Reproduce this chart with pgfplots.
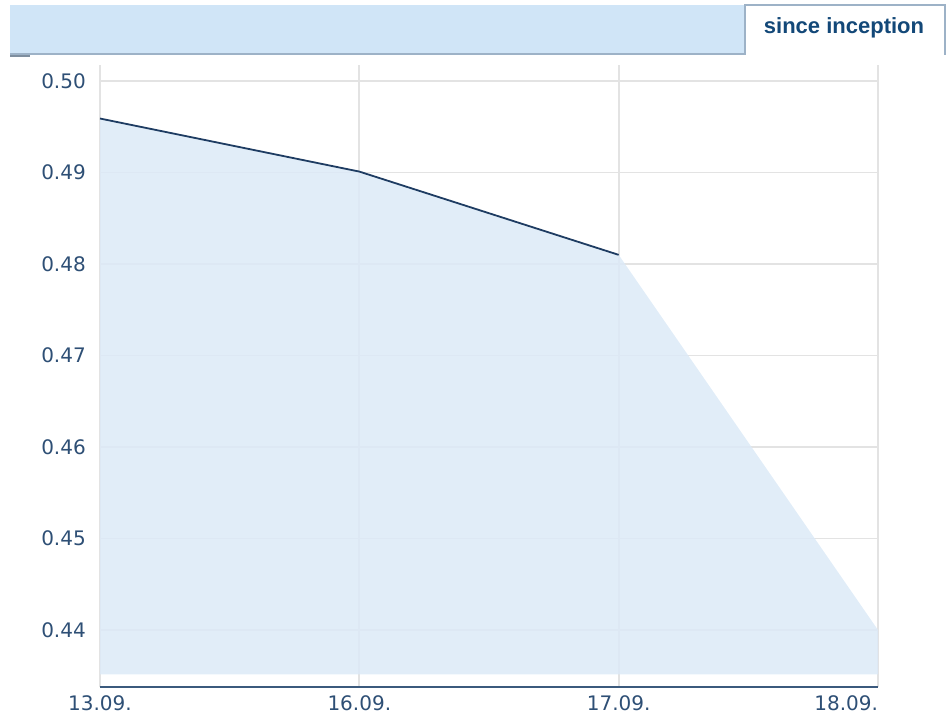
\documentclass[border=0pt]{standalone}
\usepackage{fontspec}
\setmainfont{DejaVu Sans}
\newfontfamily\tabfont{Liberation Sans}
\usepackage{pgfplots}
\pgfplotsset{compat=1.18}
\definecolor{fillblue}{HTML}{DCEAF7}
\definecolor{lineblue}{HTML}{1E3C62}
\definecolor{ticktext}{HTML}{2E4F75}
\definecolor{gridgray}{HTML}{E3E3E3}
\definecolor{banner}{HTML}{D0E5F7}
\definecolor{tabborder}{HTML}{9DB2C7}
\definecolor{tabtext}{HTML}{134878}
\definecolor{axisline}{HTML}{3B5A7D}
\begin{document}
\begin{tikzpicture}[x=1pt,y=1pt]
\useasboundingbox (0,0) rectangle (950,717);
% header banner and tab
\fill[banner] (10,664) rectangle (745,712);
\draw[tabborder, line width=2pt] (10,663) -- (745,663);
\fill[tabborder!80!black] (10,660) rectangle (30,662);
\fill[white] (745,662) rectangle (945,712);
\draw[tabborder, line width=2pt] (745,662) -- (745,712) -- (945,712) -- (945,662);
\node[font=\tabfont\bfseries\fontsize{22}{26}\selectfont, text=tabtext] at (844,689) {since inception};
\begin{axis}[
  at={(100pt,30pt)}, anchor=south west,
  scale only axis, width=778pt, height=622pt,
  xmin=0, xmax=3, ymin=0.43377, ymax=0.50175,
  axis x line*=bottom, axis y line*=left,
  x axis line style={axisline, line width=2pt, -},
  y axis line style={draw=none},
  major tick length=0pt,
  grid=major,
  major grid style={gridgray, line width=1.8pt},
  xtick={0,1,2,3},
  xticklabels={13.09.,16.09.,17.09.,{\makebox[0pt][r]{18.09.}}},
  ytick={0.44,0.45,0.46,0.47,0.48,0.49,0.50},
  yticklabel style={/pgf/number format/fixed, /pgf/number format/precision=2, /pgf/number format/fixed zerofill, /pgf/number format/assume math mode=true},
  scaled y ticks=false,
  tick label style={font=\fontsize{20}{24}\selectfont, text=ticktext, inner sep=0pt},
  xticklabel style={anchor=north, yshift=-8pt},
  yticklabel style={anchor=east, xshift=-14pt},
  clip=false,
]
\addplot[fill=fillblue, draw=none, fill opacity=0.85] coordinates {(0,0.43514) (0,0.4959) (1,0.4901) (2,0.4810) (3,0.4400) (3,0.43514)} -- cycle;
\addplot[lineblue, line width=1.8pt] coordinates {(0,0.4959) (1,0.4901) (2,0.4810)};
\end{axis}
\end{tikzpicture}
\end{document}
